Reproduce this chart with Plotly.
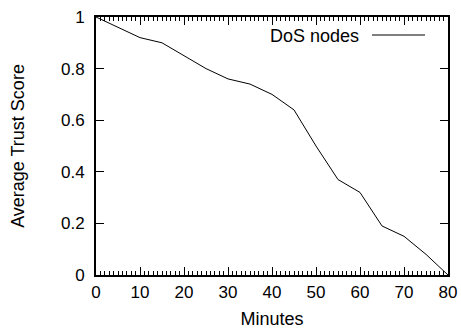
import plotly.graph_objects as go

minutes = [0, 5, 10, 15, 20, 25, 30, 35, 40, 45, 50, 55, 60, 65, 70, 75, 80]
trust = [1.0, 0.96, 0.92, 0.90, 0.85, 0.80, 0.76, 0.74, 0.70, 0.64, 0.50, 0.37, 0.32, 0.19, 0.15, 0.08, 0.0]
series_name = "DoS nodes"

fig = go.Figure()
fig.add_trace(go.Scatter(x=minutes, y=trust, mode="lines", name=series_name,
                         line=dict(color="black", width=1), showlegend=False))

font = dict(family="Liberation Sans, Arial, sans-serif", size=17, color="black")

L, R, T, B = 96, 448, 17, 275
W, H = 461, 330

fig.update_layout(
    width=W, height=H,
    margin=dict(l=L, r=W - R, t=T, b=H - B),
    plot_bgcolor="white", paper_bgcolor="white",
    font=font,
    xaxis=dict(range=[0, 80], tick0=0, dtick=10, ticks="inside", ticklen=8, tickwidth=1,
               tickcolor="black", showline=True, linecolor="black", linewidth=2,
               mirror="allticks", showgrid=False, zeroline=False, automargin=False,
               ticklabelstandoff=1,
               minor=dict(dtick=1, ticks="inside", ticklen=4, tickcolor="black", tickwidth=1),
               title=dict(text="Minutes", standoff=11, font=dict(size=18))),
    yaxis=dict(range=[0, 1], tick0=0, dtick=0.2, ticks="inside", ticklen=8, tickwidth=1,
               tickcolor="black", showline=True, linecolor="black", linewidth=2,
               mirror="allticks", showgrid=False, zeroline=False, automargin=False,
               tickformat="~g", ticklabelstandoff=6,
               title=dict(text="Average Trust Score", standoff=32, font=dict(size=18))),
)

pw, ph = R - L, B - T
def px(x):
    return (x - L) / pw
def py(y):
    return (B - y) / ph

fig.add_annotation(x=px(361), y=py(36), xref="paper", yref="paper", text=series_name,
                   showarrow=False, xanchor="right", yanchor="middle",
                   font=dict(size=18))
fig.add_shape(type="line", xref="paper", yref="paper", x0=px(372), x1=px(425),
              y0=py(35), y1=py(35), line=dict(color="black", width=1))
fig.write_html("out.html", config={"displayModeBar": False},
               post_script="document.body.style.margin='0px';document.body.style.overflow='hidden';")
